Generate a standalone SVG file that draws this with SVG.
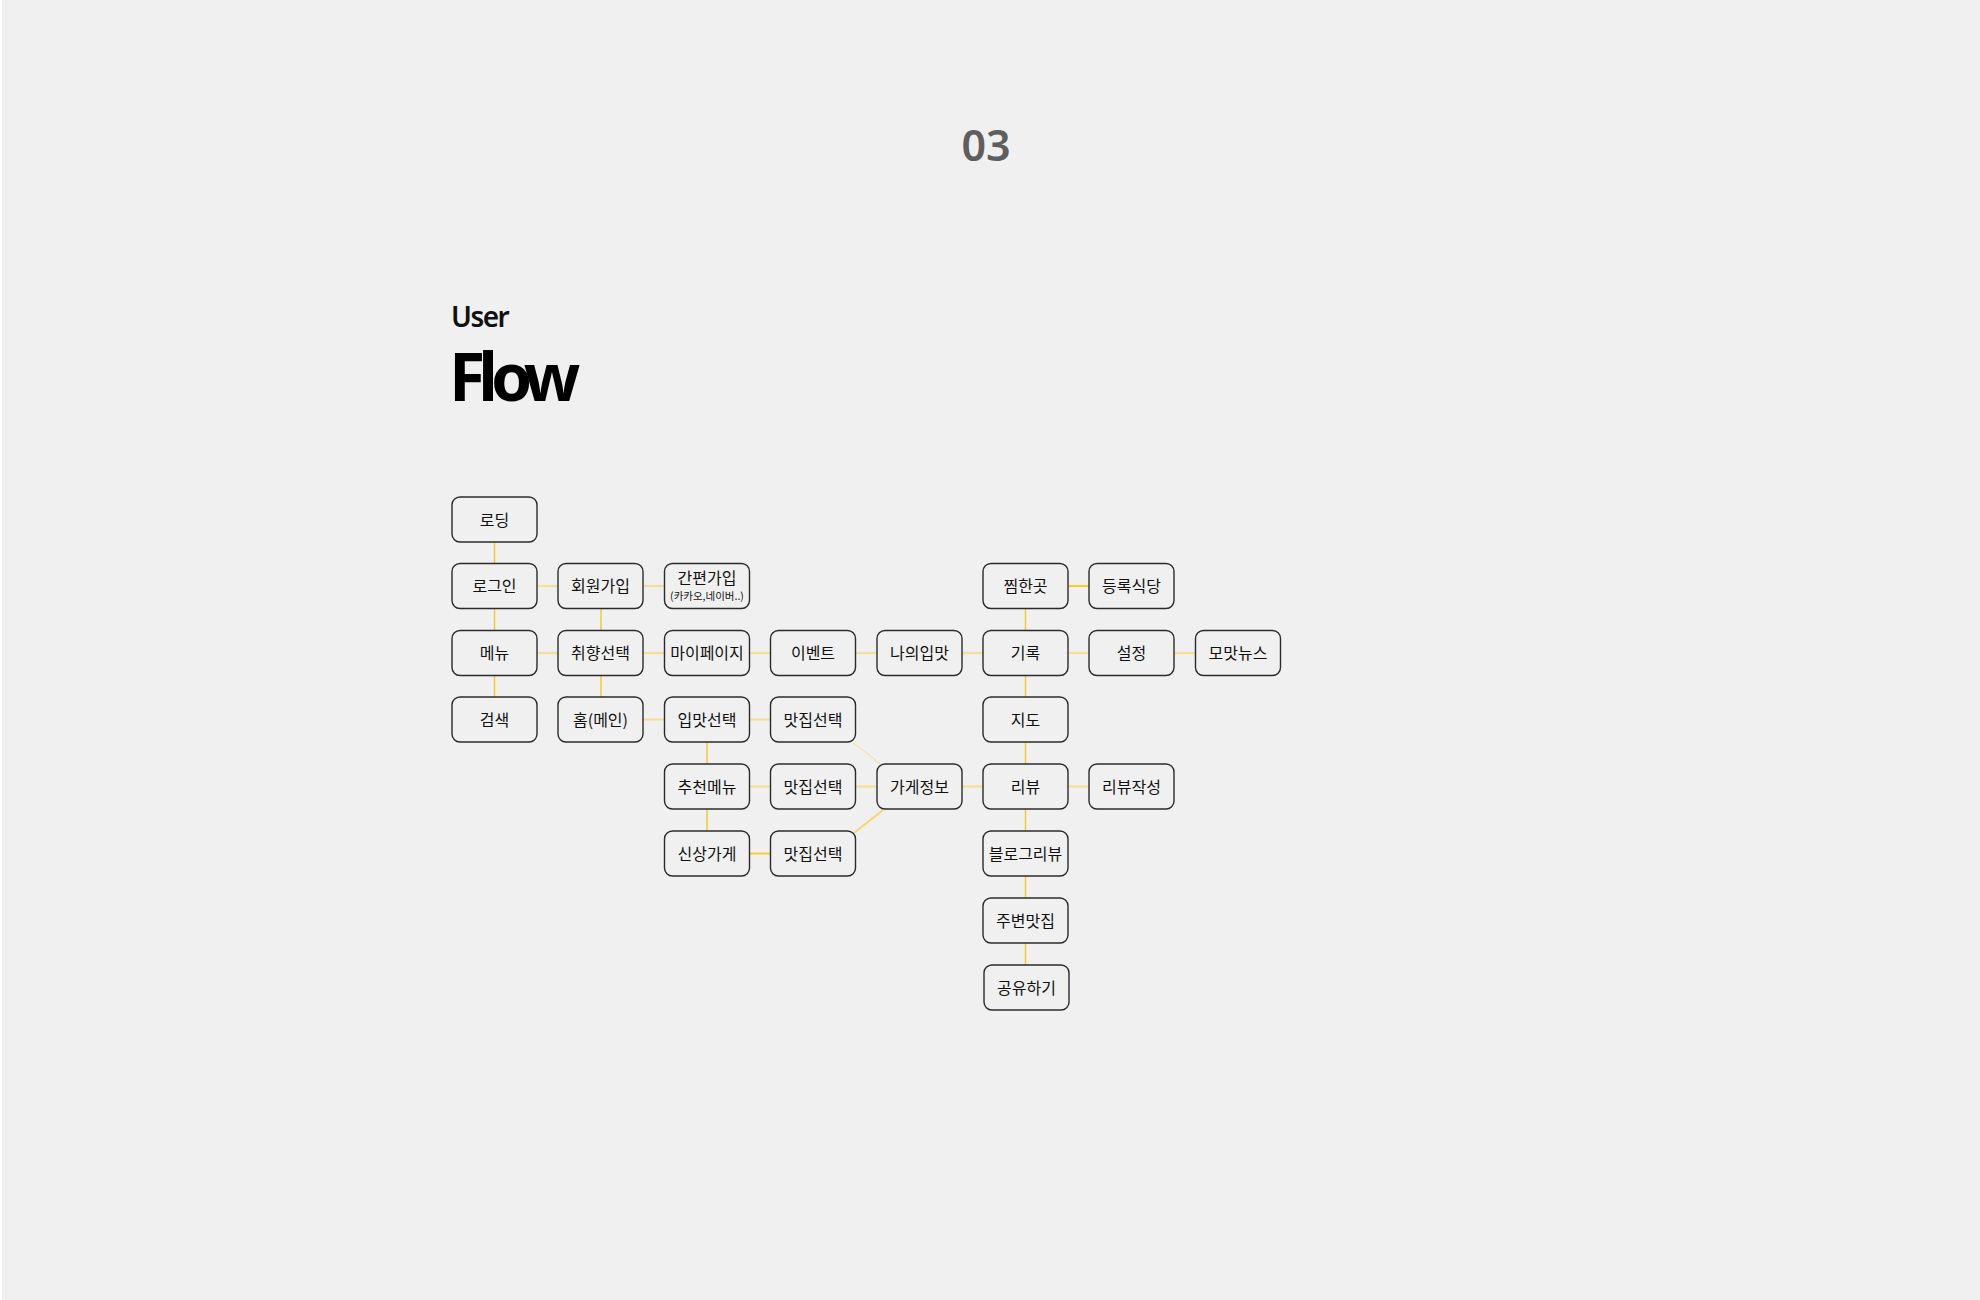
<svg xmlns="http://www.w3.org/2000/svg" width="1980" height="1300" viewBox="0 0 1980 1300">
<style>
.bg{fill:#f0f0f0}
.box rect{fill:#f0f0f0;stroke:#2b2b2b;stroke-width:1.4}
.box text{font-family:"Noto Sans CJK KR","Noto Sans",sans-serif;font-size:16px;fill:#111;text-anchor:middle}
.box text.sub{font-size:10.5px}
.h{stroke:#f4df95;stroke-width:2.2;fill:none}
.hb{stroke:#f6cf2c;stroke-width:2;fill:none}
.v{stroke:#f5c823;stroke-width:1.4;fill:none}
.d{stroke:#f5e2a6;stroke-width:1.2;fill:none}
.db{stroke:#f6d565;stroke-width:1.8;fill:none}
</style>
<rect class="bg" x="0" y="0" width="1980" height="1300"/>
<rect x="0" y="0" width="2" height="1300" fill="#ffffff"/>
<text x="986" y="161" font-family="Noto Sans, sans-serif" font-size="43" font-weight="600" fill="#5e5e5e" text-anchor="middle">03</text>
<text x="451" y="327" font-family="Noto Sans, sans-serif" font-size="28" font-weight="600" fill="#111" letter-spacing="-1.5">User</text>
<text x="449" y="401" font-family="Noto Sans, sans-serif" font-size="66" font-weight="700" fill="#000" letter-spacing="-7">Flow</text>
<g id="connectors">
<line class="v" x1="494.5" y1="542" x2="494.5" y2="563.5"/>
<line class="v" x1="494.5" y1="608.5" x2="494.5" y2="630.5"/>
<line class="v" x1="494.5" y1="675.5" x2="494.5" y2="697"/>
<line class="v" x1="601" y1="608.5" x2="601" y2="630.5"/>
<line class="v" x1="601" y1="675.5" x2="601" y2="697"/>
<line class="v" x1="707" y1="742" x2="707" y2="764"/>
<line class="v" x1="707" y1="809" x2="707" y2="831"/>
<line class="v" x1="1025.5" y1="608.5" x2="1025.5" y2="630.5"/>
<line class="v" x1="1025.5" y1="675.5" x2="1025.5" y2="697"/>
<line class="v" x1="1025.5" y1="742" x2="1025.5" y2="764"/>
<line class="v" x1="1025.5" y1="809" x2="1025.5" y2="831"/>
<line class="v" x1="1025.5" y1="876" x2="1025.5" y2="898"/>
<line class="v" x1="1025.5" y1="943" x2="1025.5" y2="965"/>
<line class="h" x1="537" y1="586" x2="558" y2="586"/>
<line class="h" x1="643" y1="586" x2="664.5" y2="586"/>
<line class="hb" x1="1068" y1="586" x2="1089" y2="586"/>
<line class="h" x1="537" y1="653" x2="558" y2="653"/>
<line class="h" x1="643" y1="653" x2="664.5" y2="653"/>
<line class="h" x1="749.5" y1="653" x2="770.5" y2="653"/>
<line class="h" x1="855.5" y1="653" x2="877" y2="653"/>
<line class="h" x1="962" y1="653" x2="983" y2="653"/>
<line class="h" x1="1068" y1="653" x2="1089" y2="653"/>
<line class="h" x1="1174" y1="653" x2="1195.5" y2="653"/>
<line class="h" x1="643" y1="719.5" x2="664.5" y2="719.5"/>
<line class="h" x1="749.5" y1="719.5" x2="770.5" y2="719.5"/>
<line class="h" x1="749.5" y1="786.5" x2="770.5" y2="786.5"/>
<line class="h" x1="855.5" y1="786.5" x2="877" y2="786.5"/>
<line class="h" x1="962" y1="786.5" x2="983" y2="786.5"/>
<line class="h" x1="1068" y1="786.5" x2="1089" y2="786.5"/>
<line class="hb" x1="749.5" y1="853.5" x2="770.5" y2="853.5"/>
<line class="d" x1="853" y1="742.5" x2="882" y2="765"/>
<line class="db" x1="854" y1="833" x2="883" y2="810"/>
</g>
<g id="n-loading" class="box"><rect x="452" y="497" width="85" height="45" rx="8"/><text x="494.5" y="525.5">로딩</text></g>
<g id="n-login" class="box"><rect x="452" y="563.5" width="85" height="45" rx="8"/><text x="494.5" y="592">로그인</text></g>
<g id="n-signup" class="box"><rect x="558" y="563.5" width="85" height="45" rx="8"/><text x="600.5" y="592">회원가입</text></g>
<g id="n-easysignup" class="box"><rect x="664.5" y="563.5" width="85" height="45" rx="8"/><text x="707" y="584">간편가입</text><text class="sub" x="707" y="600">(카카오,네이버..)</text></g>
<g id="n-wish" class="box"><rect x="983" y="563.5" width="85" height="45" rx="8"/><text x="1025.5" y="592">찜한곳</text></g>
<g id="n-registered" class="box"><rect x="1089" y="563.5" width="85" height="45" rx="8"/><text x="1131.5" y="592">등록식당</text></g>
<g id="n-menu" class="box"><rect x="452" y="630.5" width="85" height="45" rx="8"/><text x="494.5" y="659">메뉴</text></g>
<g id="n-taste" class="box"><rect x="558" y="630.5" width="85" height="45" rx="8"/><text x="600.5" y="659">취향선택</text></g>
<g id="n-mypage" class="box"><rect x="664.5" y="630.5" width="85" height="45" rx="8"/><text x="707" y="659">마이페이지</text></g>
<g id="n-event" class="box"><rect x="770.5" y="630.5" width="85" height="45" rx="8"/><text x="813" y="659">이벤트</text></g>
<g id="n-mytaste" class="box"><rect x="877" y="630.5" width="85" height="45" rx="8"/><text x="919.5" y="659">나의입맛</text></g>
<g id="n-record" class="box"><rect x="983" y="630.5" width="85" height="45" rx="8"/><text x="1025.5" y="659">기록</text></g>
<g id="n-settings" class="box"><rect x="1089" y="630.5" width="85" height="45" rx="8"/><text x="1131.5" y="659">설정</text></g>
<g id="n-news" class="box"><rect x="1195.5" y="630.5" width="85" height="45" rx="8"/><text x="1238" y="659">모맛뉴스</text></g>
<g id="n-search" class="box"><rect x="452" y="697" width="85" height="45" rx="8"/><text x="494.5" y="725.5">검색</text></g>
<g id="n-home" class="box"><rect x="558" y="697" width="85" height="45" rx="8"/><text x="600.5" y="725.5">홈(메인)</text></g>
<g id="n-tastesel" class="box"><rect x="664.5" y="697" width="85" height="45" rx="8"/><text x="707" y="725.5">입맛선택</text></g>
<g id="n-restsel1" class="box"><rect x="770.5" y="697" width="85" height="45" rx="8"/><text x="813" y="725.5">맛집선택</text></g>
<g id="n-map" class="box"><rect x="983" y="697" width="85" height="45" rx="8"/><text x="1025.5" y="725.5">지도</text></g>
<g id="n-recommend" class="box"><rect x="664.5" y="764" width="85" height="45" rx="8"/><text x="707" y="792.5">추천메뉴</text></g>
<g id="n-restsel2" class="box"><rect x="770.5" y="764" width="85" height="45" rx="8"/><text x="813" y="792.5">맛집선택</text></g>
<g id="n-storeinfo" class="box"><rect x="877" y="764" width="85" height="45" rx="8"/><text x="919.5" y="792.5">가게정보</text></g>
<g id="n-review" class="box"><rect x="983" y="764" width="85" height="45" rx="8"/><text x="1025.5" y="792.5">리뷰</text></g>
<g id="n-writereview" class="box"><rect x="1089" y="764" width="85" height="45" rx="8"/><text x="1131.5" y="792.5">리뷰작성</text></g>
<g id="n-newstore" class="box"><rect x="664.5" y="831" width="85" height="45" rx="8"/><text x="707" y="859.5">신상가게</text></g>
<g id="n-restsel3" class="box"><rect x="770.5" y="831" width="85" height="45" rx="8"/><text x="813" y="859.5">맛집선택</text></g>
<g id="n-blog" class="box"><rect x="983" y="831" width="85" height="45" rx="8"/><text x="1025.5" y="859.5">블로그리뷰</text></g>
<g id="n-nearby" class="box"><rect x="983" y="898" width="85" height="45" rx="8"/><text x="1025.5" y="926.5">주변맛집</text></g>
<g id="n-share" class="box"><rect x="984" y="965" width="85" height="45" rx="8"/><text x="1026.5" y="993.5">공유하기</text></g>
</svg>
